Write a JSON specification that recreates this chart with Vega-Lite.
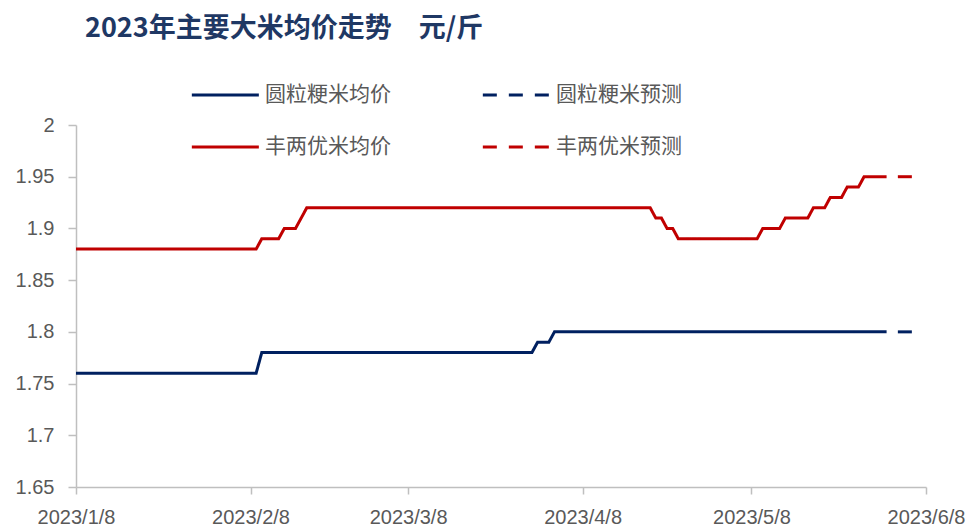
{
  "$schema": "https://vega.github.io/schema/vega-lite/v6.json",
  "width": 850,
  "height": 362,
  "autosize": {"type": "none"},
  "padding": {"left": 76, "top": 125, "right": 48, "bottom": 44},
  "background": "white",
  "title": {
    "text": "2023年主要大米均价走势　元/斤",
    "anchor": "start",
    "frame": "group",
    "orient": "top",
    "offset": 18,
    "dx": 9,
    "font": "Noto Sans CJK SC",
    "fontSize": 27,
    "fontWeight": "bold",
    "color": "#1F3864",
    "baseline": "alphabetic"
  },
  "data": {
    "values": [
      {"s": "圆粒粳米均价", "d": "2023-01-08", "v": 1.76},
      {"s": "圆粒粳米均价", "d": "2023-02-09", "v": 1.76},
      {"s": "圆粒粳米均价", "d": "2023-02-10", "v": 1.78},
      {"s": "圆粒粳米均价", "d": "2023-03-30", "v": 1.78},
      {"s": "圆粒粳米均价", "d": "2023-03-31", "v": 1.79},
      {"s": "圆粒粳米均价", "d": "2023-04-02", "v": 1.79},
      {"s": "圆粒粳米均价", "d": "2023-04-03", "v": 1.80},
      {"s": "圆粒粳米均价", "d": "2023-06-01", "v": 1.80},
      {"s": "圆粒粳米预测", "d": "2023-06-03", "v": 1.80},
      {"s": "圆粒粳米预测", "d": "2023-06-07", "v": 1.80},
      {"s": "丰两优米均价", "d": "2023-01-08", "v": 1.88},
      {"s": "丰两优米均价", "d": "2023-02-09", "v": 1.88},
      {"s": "丰两优米均价", "d": "2023-02-10", "v": 1.89},
      {"s": "丰两优米均价", "d": "2023-02-13", "v": 1.89},
      {"s": "丰两优米均价", "d": "2023-02-14", "v": 1.90},
      {"s": "丰两优米均价", "d": "2023-02-16", "v": 1.90},
      {"s": "丰两优米均价", "d": "2023-02-17", "v": 1.91},
      {"s": "丰两优米均价", "d": "2023-02-18", "v": 1.92},
      {"s": "丰两优米均价", "d": "2023-04-20", "v": 1.92},
      {"s": "丰两优米均价", "d": "2023-04-21", "v": 1.91},
      {"s": "丰两优米均价", "d": "2023-04-22", "v": 1.91},
      {"s": "丰两优米均价", "d": "2023-04-23", "v": 1.90},
      {"s": "丰两优米均价", "d": "2023-04-24", "v": 1.90},
      {"s": "丰两优米均价", "d": "2023-04-25", "v": 1.89},
      {"s": "丰两优米均价", "d": "2023-05-09", "v": 1.89},
      {"s": "丰两优米均价", "d": "2023-05-10", "v": 1.90},
      {"s": "丰两优米均价", "d": "2023-05-13", "v": 1.90},
      {"s": "丰两优米均价", "d": "2023-05-14", "v": 1.91},
      {"s": "丰两优米均价", "d": "2023-05-18", "v": 1.91},
      {"s": "丰两优米均价", "d": "2023-05-19", "v": 1.92},
      {"s": "丰两优米均价", "d": "2023-05-21", "v": 1.92},
      {"s": "丰两优米均价", "d": "2023-05-22", "v": 1.93},
      {"s": "丰两优米均价", "d": "2023-05-24", "v": 1.93},
      {"s": "丰两优米均价", "d": "2023-05-25", "v": 1.94},
      {"s": "丰两优米均价", "d": "2023-05-27", "v": 1.94},
      {"s": "丰两优米均价", "d": "2023-05-28", "v": 1.95},
      {"s": "丰两优米均价", "d": "2023-06-01", "v": 1.95},
      {"s": "丰两优米预测", "d": "2023-06-03", "v": 1.95},
      {"s": "丰两优米预测", "d": "2023-06-07", "v": 1.95}
    ]
  },
  "mark": {"type": "line", "strokeWidth": 3, "strokeCap": "butt", "clip": false},
  "encoding": {
    "x": {
      "field": "d",
      "type": "temporal",
      "scale": {
        "type": "utc",
        "domain": [
          {"year": 2023, "month": 1, "date": 8, "utc": true},
          {"year": 2023, "month": 6, "date": 8, "utc": true}
        ]
      },
      "axis": {
        "title": null,
        "values": [
          {"year": 2023, "month": 1, "date": 8, "utc": true},
          {"year": 2023, "month": 2, "date": 8, "utc": true},
          {"year": 2023, "month": 3, "date": 8, "utc": true},
          {"year": 2023, "month": 4, "date": 8, "utc": true},
          {"year": 2023, "month": 5, "date": 8, "utc": true},
          {"year": 2023, "month": 6, "date": 8, "utc": true}
        ],
        "labelExpr": "utcFormat(datum.value, '%Y/%-m/%-d')",
        "grid": false,
        "labelFont": "Liberation Sans",
        "labelFontSize": 20,
        "labelColor": "#595959",
        "labelPadding": 13,
        "labelOverlap": false,
        "labelFlush": false,
        "tickSize": 7,
        "tickColor": "#BFBFBF",
        "tickWidth": 1.5,
        "domainColor": "#BFBFBF",
        "domainWidth": 1.5
      }
    },
    "y": {
      "field": "v",
      "type": "quantitative",
      "scale": {"domain": [1.65, 2], "nice": false, "zero": false},
      "axis": {
        "title": null,
        "values": [1.65, 1.7, 1.75, 1.8, 1.85, 1.9, 1.95, 2],
        "format": ".3~g",
        "grid": false,
        "labelFont": "Liberation Sans",
        "labelFontSize": 20,
        "labelColor": "#595959",
        "labelPadding": 14,
        "tickSize": 8,
        "tickColor": "#BFBFBF",
        "tickWidth": 1.5,
        "domainColor": "#BFBFBF",
        "domainWidth": 1.5
      }
    },
    "color": {
      "field": "s",
      "type": "nominal",
      "scale": {
        "domain": ["圆粒粳米均价", "圆粒粳米预测", "丰两优米均价", "丰两优米预测"],
        "range": ["#002060", "#002060", "#C00000", "#C00000"]
      },
      "legend": {
        "title": null,
        "orient": "none",
        "direction": "horizontal",
        "legendX": 114,
        "legendY": -43,
        "columns": 2,
        "symbolType": "M-1,0H5",
        "symbolSize": 499,
        "symbolStrokeWidth": 3,
        "labelFont": "Noto Sans CJK SC",
        "labelFontSize": 21,
        "labelColor": "#595959",
        "labelOffset": 49,
        "labelLimit": 0,
        "columnPadding": 85,
        "rowPadding": 29,
        "padding": 0
      }
    },
    "strokeDash": {
      "field": "s",
      "type": "nominal",
      "scale": {
        "domain": ["圆粒粳米均价", "圆粒粳米预测", "丰两优米均价", "丰两优米预测"],
        "range": [[1, 0], [14, 12], [1, 0], [14, 12]]
      },
      "legend": {
        "title": null,
        "orient": "none",
        "direction": "horizontal",
        "legendX": 114,
        "legendY": -43,
        "columns": 2,
        "symbolType": "M-1,0H5",
        "symbolSize": 499,
        "symbolStrokeWidth": 3,
        "labelFont": "Noto Sans CJK SC",
        "labelFontSize": 21,
        "labelColor": "#595959",
        "labelOffset": 49,
        "labelLimit": 0,
        "columnPadding": 85,
        "rowPadding": 29,
        "padding": 0
      }
    }
  },
  "config": {"view": {"stroke": null}}
}
